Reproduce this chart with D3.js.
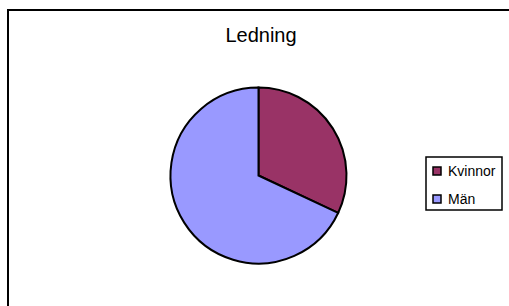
<!DOCTYPE html>
<html>
<head>
<meta charset="utf-8">
<script src="https://cdn.jsdelivr.net/npm/d3@7"></script>
<style>
  body { margin: 0; background: #fff; }
  text { font-family: "Liberation Sans", Arial, sans-serif; fill: #000; }
</style>
</head>
<body>
<div id="chart"></div>
<script>
var width = 509, height = 306;

// data
var title = "Ledning";
var categories = ["Kvinnor", "Män"];
var values = [32, 68];
var colors = ["#993366", "#9999ff"];

var svg = d3.select("#chart")
  .append("svg")
  .attr("width", width)
  .attr("height", height);

// outer frame (runs off the right and bottom edge)
svg.append("rect")
  .attr("x", 8)
  .attr("y", 10)
  .attr("width", 520)
  .attr("height", 320)
  .attr("fill", "#fff")
  .attr("stroke", "#000")
  .attr("stroke-width", 2);

svg.append("text")
  .text(title)
  .attr("x", 261)
  .attr("y", 42)
  .attr("text-anchor", "middle")
  .style("font-size", "20px");

var radius = 88;
var cx = 258.5, cy = 175.5;

var color = d3.scaleOrdinal().domain(categories).range(colors);

var pie = d3.pie().sort(null).value(function(d) { return d.value; });
var arc = d3.arc().innerRadius(0).outerRadius(radius);

var pieData = categories.map(function(c, i) { return {name: c, value: values[i]}; });

var g = svg.append("g").attr("transform", "translate(" + cx + "," + cy + ")");
g.selectAll("path")
  .data(pie(pieData))
  .enter()
  .append("path")
  .attr("d", arc)
  .attr("fill", function(d) { return color(d.data.name); })
  .attr("stroke", "#000")
  .attr("stroke-width", 2)
  .attr("stroke-linejoin", "miter");

// legend
var legend = svg.append("g").attr("transform", "translate(426,157)");
legend.append("rect")
  .attr("width", 76)
  .attr("height", 53)
  .attr("fill", "#fff")
  .attr("stroke", "#000")
  .attr("stroke-width", 1.5);

var item = legend.selectAll(".item")
  .data(categories)
  .enter()
  .append("g")
  .attr("class", "item")
  .attr("transform", function(d, i) { return "translate(7," + (10 + i * 28) + ")"; });

item.append("rect")
  .attr("width", 8)
  .attr("height", 8)
  .attr("fill", function(d) { return color(d); })
  .attr("stroke", "#000")
  .attr("stroke-width", 1.5);

item.append("text")
  .text(function(d) { return d; })
  .attr("x", 15)
  .attr("y", 9)
  .style("font-size", "14px");
</script>
</body>
</html>
